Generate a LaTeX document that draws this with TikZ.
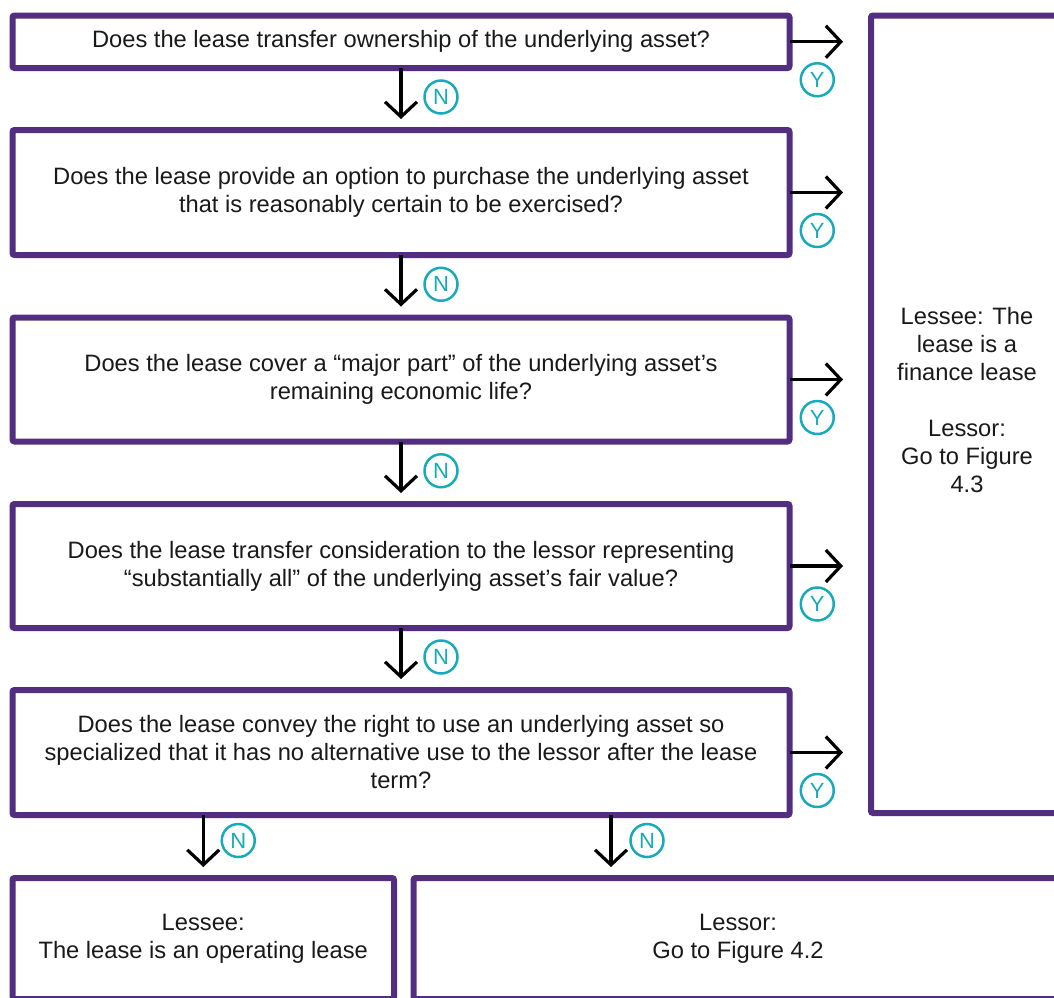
\documentclass[tikz,border=0pt]{standalone}
\usepackage{fontspec}
\setmainfont{Liberation Sans}
\usetikzlibrary{arrows.meta,positioning}
\definecolor{leasepurple}{RGB}{82,45,128}
\definecolor{leaseteal}{RGB}{23,170,184}

\begin{document}
\begin{tikzpicture}[x=1pt,y=-1pt,
  box/.style={draw=leasepurple, line width=6pt, rounded corners=2pt, outer sep=0pt, inner sep=0pt,
    align=center, minimum width=777pt, text=black!90, font=\fontsize{23.7}{28}\selectfont},
  arr/.style={line width=3.2pt, -{Straight Barb[length=15pt,width=32pt]}},
  yn/.style={circle, draw=leaseteal, line width=2.5pt, text=leaseteal, minimum size=33pt,
    inner sep=0pt, font=\fontsize{22}{22}\selectfont}]
\useasboundingbox (0,0) rectangle (1054,997);
\clip (0,0) rectangle (1054,997);

% Questions
\node[box, minimum height=52.5pt] (q1) at (401,41.75) {Does the lease transfer ownership of the underlying asset?};
\node[box, minimum height=125pt] (q2) at (401,192.5) {Does the lease provide an option to purchase the underlying asset\\that is reasonably certain to be exercised?};
\node[box, minimum height=124pt] (q3) at (401,379.5) {Does the lease cover a “major part” of the underlying asset’s\\remaining economic life?};
\node[box, minimum height=124pt] (q4) at (401,566) {Does the lease transfer consideration to the lessor representing\\“substantially all” of the underlying asset’s fair value?};
\node[box, minimum height=125pt] (q5) at (401,752.5) {Does the lease convey the right to use an underlying asset so\\specialized that it has no alternative use to the lessor after the lease\\term?};

% Results
\node[box, minimum width=192pt, minimum height=797.5pt] (fin) at (967,414.25) {};
\node[align=center, text=black!90, font=\fontsize{23.7}{28}\selectfont] (fintext) at (967,400)
  {Lessee: The\\lease is a\\finance lease\\[28pt]Lessor:\\Go to Figure\\4.3};
\node[box, minimum width=381.5pt, minimum height=121pt] (lessee) at (203.25,938.5) {Lessee:\\The lease is an operating lease};
\node[box, minimum width=649pt, minimum height=121pt] (lessor) at (738,938.5) {Lessor:\\Go to Figure 4.2};
\coordinate (split) at ([xshift=210pt]q5.south);

% Yes arrows
\foreach \q in {q1,q2,q3,q4,q5}
  \draw[arr, shorten >=28pt] (\q.east) -- node[yn, xshift=-13pt, yshift=-38pt] (y-\q) {Y} (\q.east -| fin.west);

% No arrows
\draw[arr, shorten >=11pt] (q1) -- node[yn, xshift=40pt, yshift=2pt] (n1) {N} (q2);
\draw[arr, shorten >=11pt] (q2) -- node[yn, xshift=40pt, yshift=2pt] (n2) {N} (q3);
\draw[arr, shorten >=11pt] (q3) -- node[yn, xshift=40pt, yshift=2pt] (n3) {N} (q4);
\draw[arr, shorten >=11pt] (q4) -- node[yn, xshift=40pt, yshift=2pt] (n4) {N} (q5);
\draw[arr, shorten >=11pt] (lessee.north |- q5.south) -- node[yn, xshift=35pt, yshift=6pt] (n5) {N} (lessee.north);
\draw[arr, shorten >=11pt] (split) -- node[yn, xshift=36pt, yshift=6pt] (n6) {N} (split |- lessor.north);

\end{tikzpicture}
\end{document}
